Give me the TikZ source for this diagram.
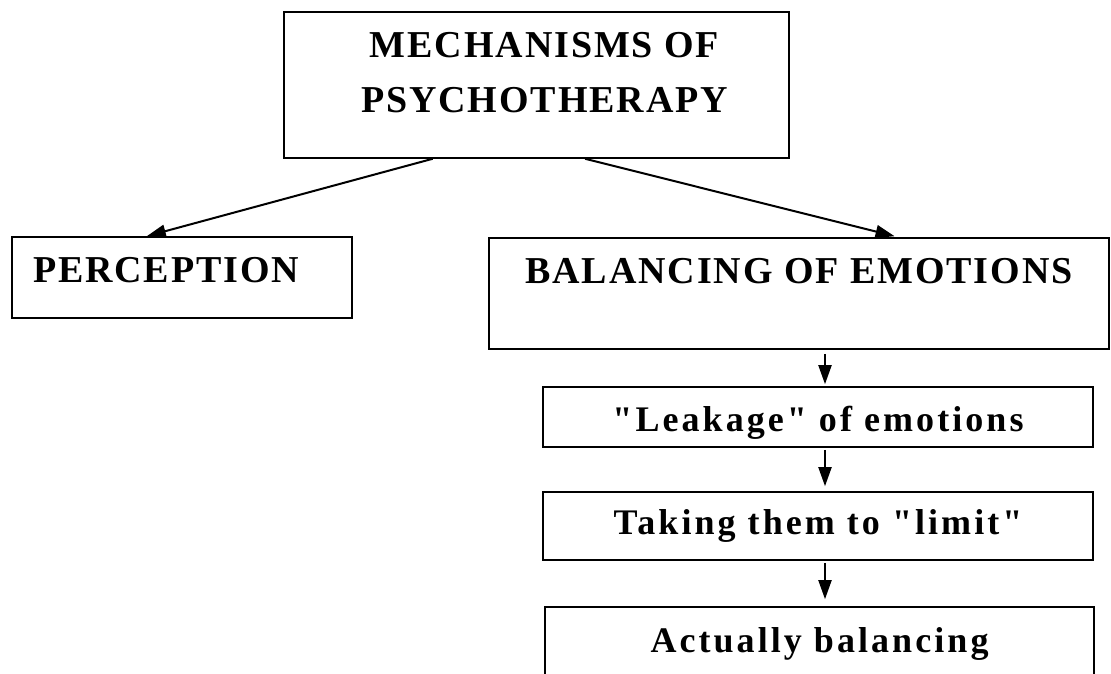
\documentclass[tikz,border=0pt]{standalone}
\usepackage{fontspec}
\setmainfont{Liberation Serif}
\newfontfamily\headfont[LetterSpace=5]{Liberation Serif}
\newfontfamily\stepfont[LetterSpace=8.5]{Liberation Serif}
\usetikzlibrary{arrows.meta,positioning,calc}

\begin{document}
\begin{tikzpicture}[x=1pt,y=1pt,>={Triangle[length=19pt,width=13pt]},
  box/.style={draw,line width=1.6pt,inner sep=0pt},
  head/.style={font=\headfont\bfseries\fontsize{38}{55}\selectfont},
  stepbox/.style={box,font=\stepfont\bfseries\fontsize{36}{43}\selectfont},
  arr/.style={->,line width=2pt}]
\useasboundingbox (0,0) rectangle (1111,674);
\node[box,head,align=center,minimum width=505pt,text height=101pt,text depth=45pt] (mech) at (536.5,589) {\hspace*{16pt}MECHANISMS OF\\\hspace*{16pt}PSYCHOTHERAPY};
\node[box,head,align=left,text width=298pt,inner xsep=21pt,text height=46pt,text depth=35pt] (perc) at (182,396.5) {PERCEPTION};
\node[box,head,minimum width=620pt,text height=46pt,text depth=65pt] (bal) at (799,380.5) {BALANCING OF EMOTIONS};
\node[stepbox,minimum width=550pt,text height=45pt,text depth=15pt] (leak) at (818,257) {"Leakage" of emotions};
\node[stepbox,minimum width=550pt,text height=43pt,text depth=25pt] (limit) at (818,148) {Taking them to "limit"};
\node[stepbox,minimum width=549pt,text height=46pt,text depth=40pt] (act) at (819.5,24) {Actually balancing};
\draw[arr] ($(mech.south west)!0.295!(mech.south east)$) -- ($(perc.north west)!0.397!(perc.north east)$);
\draw[arr,shorten >=4pt] ($(mech.south west)!0.596!(mech.south east)$) -- ($(bal.north west)!0.66!(bal.north east)$);
\draw[arr,shorten <=4pt,shorten >=2pt] ([xshift=26pt]bal.south) -- ([xshift=7pt]leak.north);
\draw[arr,shorten <=2pt,shorten >=5pt] ([xshift=7pt]leak.south) -- ([xshift=7pt]limit.north);
\draw[arr,shorten <=2pt,shorten >=7pt] ([xshift=7pt]limit.south) -- ([xshift=5.5pt]act.north);
\end{tikzpicture}
\end{document}
